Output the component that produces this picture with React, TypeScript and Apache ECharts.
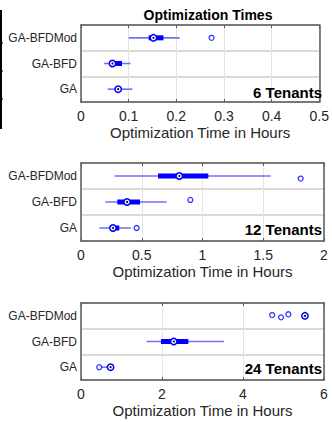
import React, { useEffect, useRef } from "react";
import * as echarts from "echarts";

const FONT = '"Liberation Sans", Arial, Helvetica, sans-serif';

const categories = ["GA", "GA-BFD", "GA-BFDMod"];

// [whiskerLow, boxLow, median, boxHigh, whiskerHigh] per category (GA, GA-BFD, GA-BFDMod)
const t6Stats = [
  [0.056, 0.072, 0.078, 0.084, 0.108],
  [0.048, 0.061, 0.066, 0.086, 0.104],
  [0.1, 0.142, 0.152, 0.173, 0.207],
];
// [value, category position (with jitter)]
const t6Outliers = [[0.274, 2]];

const t12Stats = [
  [0.151, 0.239, 0.263, 0.315, 0.412],
  [0.2, 0.299, 0.379, 0.486, 0.705],
  [0.277, 0.634, 0.809, 1.048, 1.561],
];
const t12Outliers = [
  [0.458, 0],
  [0.9, 1.08],
  [1.808, 1.9],
];

const t24Stats = [
  [0.45, 0.73, 0.73, 0.73, 0.73],
  [1.62, 1.975, 2.29, 2.65, 3.53],
  [5.53, 5.53, 5.53, 5.53, 5.53],
];
const t24Outliers = [
  [0.45, 0],
  [4.72, 2.03],
  [4.94, 1.94],
  [5.12, 2.06],
];

const panelLabels = ["6 Tenants", "12 Tenants", "24 Tenants"];
const axisMax = [0.5, 2, 6];
const axisInterval = [0.1, 0.5, 2];

const panels = [
  { stats: t6Stats, outliers: t6Outliers, top: 25, height: 77, labelY: 92 },
  { stats: t12Stats, outliers: t12Outliers, top: 163, height: 78, labelY: 229 },
  { stats: t24Stats, outliers: t24Outliers, top: 303, height: 77, labelY: 368 },
];

const AXIS_COLOR = "#5a5a5a";
const TEXT_COLOR = "#262626";

function renderBox(_params: any, api: any) {
  const cat = api.value(0);
  const c = (v: number) => api.coord([v, cat]);
  const [xwl, y] = c(api.value(1));
  const [xbl] = c(api.value(2));
  const [xm] = c(api.value(3));
  const [xbh] = c(api.value(4));
  const [xwh] = c(api.value(5));
  return {
    type: "group",
    children: [
      {
        type: "line",
        shape: { x1: xwl, y1: y, x2: xwh, y2: y },
        style: { stroke: "#7070ff", lineWidth: 1.6 },
      },
      {
        type: "line",
        shape: { x1: xbl, y1: y, x2: xbh, y2: y },
        style: { stroke: "#0000ff", lineWidth: 5 },
      },
      {
        type: "circle",
        shape: { cx: xm, cy: y, r: 3.2 },
        style: { fill: "#ffffff", stroke: "#0000ff", lineWidth: 1.5 },
      },
      {
        type: "circle",
        shape: { cx: xm, cy: y, r: 1 },
        style: { fill: "#000000" },
      },
    ],
  };
}

export default function App() {
  const ref = useRef<HTMLDivElement>(null);

  useEffect(() => {
    if (!ref.current) return;
    const chart = echarts.init(ref.current, null, { renderer: "svg" });

    const grid: any[] = [];
    const xAxis: any[] = [];
    const yAxis: any[] = [];
    const series: any[] = [];
    const graphic: any[] = [];

    panels.forEach((p, k) => {
      grid.push({ left: 81, width: 243, top: p.top, height: p.height });
      xAxis.push({
        gridIndex: k,
        type: "value",
        position: "bottom",
        min: 0,
        max: axisMax[k],
        interval: axisInterval[k],
        axisLine: { show: true, onZero: false, lineStyle: { color: AXIS_COLOR, width: 1.5 } },
        axisTick: { show: true, inside: true, length: 3, lineStyle: { color: AXIS_COLOR } },
        axisLabel: { fontSize: 14, color: TEXT_COLOR, fontFamily: FONT, margin: 7 },
        splitLine: { show: true, lineStyle: { color: "#e3e3e3", width: 1 } },
        name: "Optimization Time in Hours",
        nameLocation: "middle",
        nameGap: 23,
        nameTextStyle: { fontSize: 15, color: TEXT_COLOR, fontFamily: FONT },
      });
      xAxis.push({
        gridIndex: k,
        type: "value",
        position: "top",
        min: 0,
        max: axisMax[k],
        interval: axisInterval[k],
        axisLine: { show: true, onZero: false, lineStyle: { color: AXIS_COLOR, width: 1.5 } },
        axisTick: { show: true, inside: true, length: 3, lineStyle: { color: AXIS_COLOR } },
        axisLabel: { show: false },
        splitLine: { show: false },
      });
      yAxis.push({
        gridIndex: k,
        type: "category",
        position: "left",
        data: categories,
        axisLine: { show: true, onZero: false, lineStyle: { color: AXIS_COLOR, width: 1.5 } },
        axisTick: { show: false },
        axisLabel: { fontSize: 12, color: TEXT_COLOR, fontFamily: FONT, margin: 4 },
        splitLine: { show: true, lineStyle: { color: "#dadada", width: 2 } },
      });
      yAxis.push({
        gridIndex: k,
        type: "value",
        position: "right",
        min: -0.5,
        max: 2.5,
        axisLine: { show: true, onZero: false, lineStyle: { color: AXIS_COLOR, width: 1.5 } },
        axisTick: { show: false },
        axisLabel: { show: false },
        splitLine: { show: false },
      });

      series.push({
        type: "custom",
        xAxisIndex: 2 * k,
        yAxisIndex: 2 * k + 1,
        renderItem: renderBox,
        encode: { x: [1, 2, 3, 4, 5], y: 0 },
        data: p.stats.map((s, i) => [i, ...s]),
        z: 3,
      });
      series.push({
        type: "scatter",
        xAxisIndex: 2 * k,
        yAxisIndex: 2 * k + 1,
        symbol: "circle",
        symbolSize: 5,
        itemStyle: { color: "#ffffff", borderColor: "#0000ff", borderWidth: 1.3 },
        data: p.outliers,
        z: 4,
      });

      graphic.push({
        type: "text",
        x: 322,
        y: p.labelY,
        z: 10,
        style: {
          text: panelLabels[k],
          fontSize: 15,
          fontWeight: "bold",
          fontFamily: FONT,
          fill: "#000000",
          align: "right",
          verticalAlign: "middle",
        },
      });
    });

    graphic.push({
      type: "text",
      x: 208,
      y: 15,
      style: {
        text: "Optimization Times",
        fontSize: 14,
        fontWeight: "bold",
        fontFamily: FONT,
        fill: "#000000",
        align: "center",
        verticalAlign: "middle",
      },
    });

    // cropped edge of neighbouring figure at the far left
    graphic.push({
      type: "line",
      shape: { x1: 1, y1: 10, x2: 1, y2: 129 },
      style: { stroke: "#000000", lineWidth: 2 },
    });
    [43, 71, 99].forEach((yy) => {
      graphic.push({
        type: "line",
        shape: { x1: 1, y1: yy, x2: 3, y2: yy },
        style: { stroke: "#000000", lineWidth: 1 },
      });
    });

    chart.setOption({
      animation: false,
      backgroundColor: "#ffffff",
      grid,
      xAxis,
      yAxis,
      series,
      graphic,
    });

    return () => chart.dispose();
  }, []);

  return (
    <div
      ref={ref}
      style={{ position: "fixed", left: 0, top: 0, width: 332, height: 422 }}
    />
  );
}
